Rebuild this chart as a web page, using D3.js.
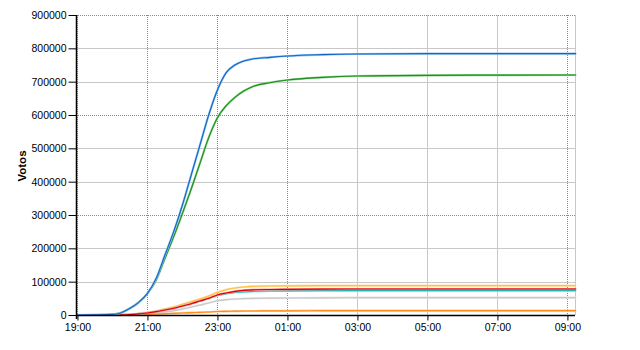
<!DOCTYPE html>
<html>
<head>
<meta charset="utf-8">
<script src="https://cdn.jsdelivr.net/npm/d3@7"></script>
<style>
  body { margin: 0; background: #fff; }
  svg { display: block; font-family: "Liberation Sans", Arial, sans-serif; }
</style>
</head>
<body>
<svg id="chart" width="640" height="350"></svg>
<script>
// sample times (night of the count, wraps past midnight)
const times = ["19:00", "20:00", "20:15", "20:30", "20:45", "21:00", "21:15", "21:30", "21:45",
  "22:00", "22:15", "22:30", "22:45", "23:00", "23:15", "23:30", "23:45", "00:00", "00:30",
  "01:00", "02:00", "03:00", "05:00", "09:15"]

const blueVotes = [0, 2000, 7000, 20000, 38000, 65000, 110000, 180000, 250000, 330000, 420000,
  510000, 600000, 675000, 727000, 750000, 762000, 768000, 773000, 777000, 781000, 783000, 784000, 784000]
const greenVotes = [0, 2000, 7000, 20000, 38000, 64000, 105000, 170000, 235000, 305000, 378000,
  455000, 532000, 592000, 628000, 653000, 672000, 685000, 697000, 705000, 713000, 717000, 719000, 720000]
const yellowVotes = [0, 0, 500, 2000, 4500, 8000, 12000, 18000, 24000, 32000, 40000, 48000, 57000,
  68000, 76000, 81000, 84000, 86000, 87000, 87500, 88000, 88000, 88000, 88000]
const redVotes = [0, 0, 500, 1500, 3500, 6000, 10000, 15000, 20000, 27000, 34000, 42000, 50000,
  60000, 66000, 71000, 74000, 75500, 76500, 77000, 77500, 78000, 78000, 78000]
const cyanVotes = [0, 0, 500, 1500, 3500, 6000, 10000, 15000, 20000, 27000, 34000, 42000, 50000,
  59000, 64000, 67500, 69500, 71000, 72000, 72500, 73000, 73000, 73000, 73000]
const grayVotes = [0, 0, 300, 1000, 2000, 3500, 6000, 9000, 13000, 18000, 24000, 30000, 36000,
  43000, 46000, 48000, 49000, 50000, 50500, 51000, 51500, 52000, 52000, 52000]
const orangeVotes = [0, 0, 200, 500, 1000, 2000, 3000, 4000, 5000, 6000, 7000, 8000, 9000,
  10500, 11000, 11500, 12000, 12000, 12500, 12500, 13000, 13000, 13000, 13000]

const xTickLabels = ["19:00", "21:00", "23:00", "01:00", "03:00", "05:00", "07:00", "09:00"]
const dottedXTicks = ["19:00", "21:00", "23:00", "01:00", "09:00"]
const yTicks = [0, 100000, 200000, 300000, 400000, 500000, 600000, 700000, 800000, 900000]

const seriesList = [
    { name: 'gray', values: grayVotes, color: '#c8c8c8', light: '#e4e4e4' },
    { name: 'orange', values: orangeVotes, color: '#ff8c1a', light: '#ffc890' },
    { name: 'yellow', values: yellowVotes, color: '#ffc040', light: '#ffe0a0' },
    { name: 'cyan', values: cyanVotes, color: '#20b8b8', light: '#90ecec' },
    { name: 'red', values: redVotes, color: '#e00000', light: '#ff9090' },
    { name: 'green', values: greenVotes, color: '#1e8c1e', light: '#90d890' },
    { name: 'blue', values: blueVotes, color: '#1464c8', light: '#90c4f0' }
]

// "HH:MM" -> Date, hours before 19 belong to the next day
const parseHM = d3.timeParse('%H:%M')
function toDate(s) {
    const d = parseHM(s)
    if (d.getHours() < 19) d.setDate(d.getDate() + 1)
    return d
}

const svg = d3.select('#chart')
const plotLeft = 76, plotRight = 575, plotTop = 15, plotBottom = 315

const start = toDate('19:00'), end = toDate('09:13')
const x = d3.scaleTime()
    .domain([new Date(+start - 2.5 * 60000), end])
    .range([plotLeft, plotRight])
const y = d3.scaleLinear().domain([0, 900000]).range([plotBottom, plotTop])

// grid
const grid = svg.append('g')
yTicks.slice(1).forEach(v => {
    const dotted = v % 300000 == 0
    grid.append('line')
        .attr('x1', plotLeft).attr('x2', plotRight)
        .attr('y1', Math.round(y(v)) + 0.5).attr('y2', Math.round(y(v)) + 0.5)
        .style('stroke', dotted ? '#8a8a8a' : '#c8c8c8')
        .style('stroke-dasharray', dotted ? '1,1' : null)
})
xTickLabels.forEach(t => {
    const dotted = dottedXTicks.includes(t)
    const px = Math.round(x(toDate(t))) + 0.5
    grid.append('line')
        .attr('x1', px).attr('x2', px)
        .attr('y1', plotTop).attr('y2', plotBottom)
        .style('stroke', dotted ? '#8a8a8a' : '#c8c8c8')
        .style('stroke-dasharray', dotted ? '1,1' : null)
})
grid.append('line')
    .attr('x1', plotRight + 0.5).attr('x2', plotRight + 0.5)
    .attr('y1', plotTop).attr('y2', plotBottom)
    .style('stroke', '#c8c8c8')

// lines
const dates = times.map(toDate)
const line = d3.line()
    .x((d, i) => x(dates[i]))
    .y(d => y(d))
    .curve(d3.curveMonotoneX)

const lines = svg.append('g')
seriesList.forEach(s => {
    lines.append('path')
        .attr('d', line(s.values))
        .style('fill', 'none')
        .style('stroke', s.light)
        .style('stroke-width', '2.2px')
    lines.append('path')
        .attr('d', line(s.values))
        .style('fill', 'none')
        .style('stroke', s.color)
        .style('stroke-width', '1.1px')
})

// axes
const yAxis = d3.axisLeft(y).tickValues(yTicks).tickFormat(d3.format('d')).tickSize(8).tickPadding(2)
const xAxis = d3.axisBottom(x).tickValues(xTickLabels.map(toDate)).tickFormat(d3.timeFormat('%H:%M')).tickSize(5).tickPadding(3)

const gy = svg.append('g')
    .attr('transform', `translate(${plotLeft + 0.5},0)`)
    .call(yAxis)
const gx = svg.append('g')
    .attr('transform', `translate(0,${plotBottom + 0.5})`)
    .call(xAxis)

;[gx, gy].forEach(g => {
    g.selectAll('.domain').attr('stroke', '#000').attr('stroke-width', 1.5)
    g.selectAll('.tick line').attr('stroke', '#000')
    g.selectAll('text').style('font-size', '10.5px').attr('fill', '#000')
})
gy.select('.domain').attr('d', `M0,${plotTop}V${plotBottom + 4}`)
gx.select('.domain').attr('d', `M${plotLeft},0H${plotRight}`)

svg.append('text')
    .attr('transform', `translate(26,166) rotate(-90)`)
    .attr('text-anchor', 'middle')
    .style('font-size', '11.5px')
    .style('font-weight', 'bold')
    .text('Votos')
</script>
</body>
</html>
